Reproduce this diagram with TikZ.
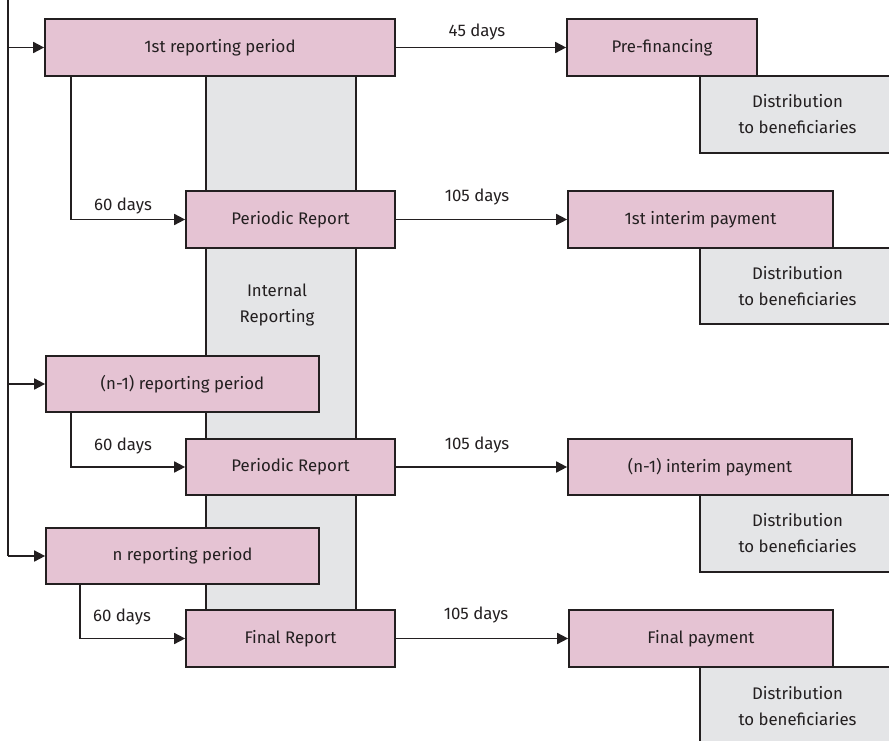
\documentclass[tikz,border=0pt]{standalone}
\usepackage{fontspec}
\setmainfont{Fira Sans}
\usetikzlibrary{arrows.meta}
\definecolor{pinkfill}{HTML}{E5C3D3}
\definecolor{grayfill}{HTML}{E4E5E7}
\definecolor{ink}{HTML}{231F20}
\begin{document}
\begin{tikzpicture}[x=1pt,y=-1pt,
  every node/.style={font=\fontsize{16.8}{26}\selectfont, text=ink},
  box/.style={draw=ink, line width=1.7pt, fill=pinkfill, inner sep=0pt},
  dist/.style={draw=ink, line width=1.7pt, fill=grayfill, inner sep=0pt, align=center, minimum width=195pt},
  arr/.style={draw=ink, line width=1.7pt, -{Triangle[length=11pt,width=11pt]}},
  plain/.style={draw=ink, line width=1.7pt},
  lbl/.style={inner sep=0pt}]
\useasboundingbox (0,0) rectangle (889,741);
\clip (0,0) rectangle (889,741);
% internal reporting column
\node[draw=ink, line width=1.7pt, fill=grayfill, minimum width=150pt, minimum height=534pt, inner sep=0pt] (col) at (281,343) {};
\node[lbl, align=center] (colt) at (277,305) {Internal\\Reporting};
% boxes
\node[box, minimum width=350pt, minimum height=57pt] (b1) at (220,47.5) {1st reporting period};
\node[box, minimum width=190pt, minimum height=57pt] (pf) at (662,47.5) {Pre-financing};
\node[dist, minimum height=77pt] (d1) at (797.5,114.5) {Distribution\\to beneficiaries};
\node[box, minimum width=209pt, minimum height=57pt] (pr1) at (290.5,219.5) {Periodic Report};
\node[box, minimum width=265pt, minimum height=57pt] (i1) at (700.5,219.5) {1st interim payment};
\node[dist, minimum height=76pt] (d2) at (797.5,286) {Distribution\\to beneficiaries};
\node[box, minimum width=273pt, minimum height=56pt] (b2) at (182.5,384) {(n-1) reporting period};
\node[box, minimum width=209pt, minimum height=56pt] (pr2) at (290.5,467) {Periodic Report};
\node[box, minimum width=284pt, minimum height=56pt] (i2) at (710,467) {(n-1) interim payment};
\node[dist, minimum height=77pt] (d3) at (797.5,533.5) {Distribution\\to beneficiaries};
\node[box, minimum width=273pt, minimum height=56pt] (b3) at (182.5,556) {n reporting period};
\node[box, minimum width=209pt, minimum height=57pt] (fr) at (290.5,638.5) {Final Report};
\node[box, minimum width=264pt, minimum height=57pt] (fp) at (701,638.5) {Final payment};
\node[dist, minimum height=78pt] (d4) at (797.5,706) {Distribution\\to beneficiaries};
% left timeline
\coordinate (ltop) at (8,0);
\coordinate (lbot) at (8,556);
\draw[plain] (ltop) -- (lbot);
\draw[arr] (ltop |- b1) -- (b1.west);
\draw[arr] (ltop |- b2) -- (b2.west);
\draw[arr] (ltop |- b3) -- (b3.west);
% 60 days connectors
\draw[arr] ([xshift=27pt]b1.south west) |- (pr1.west);
\draw[arr] ([xshift=26pt]b2.south west) |- (pr2.west);
\draw[arr] ([xshift=35pt]b3.south west) |- (fr.west);
\node[lbl] (l1) at (123,206) {60 days};
\node[lbl] (l2) at (123,446) {60 days};
\node[lbl] (l3) at (122,617) {60 days};
% payment connectors
\draw[arr] (b1.east) -- (pf.west);
\draw[arr] (pr1.east) -- (i1.west);
\draw[arr] (pr2.east) -- (i2.west);
\draw[arr] (fr.east) -- (fp.west);
\node[lbl] (l4) at (477,32) {45 days};
\node[lbl] (l5) at (477,197) {105 days};
\node[lbl] (l6) at (477,445) {105 days};
\node[lbl] (l7) at (476,615) {105 days};
\end{tikzpicture}
\end{document}
